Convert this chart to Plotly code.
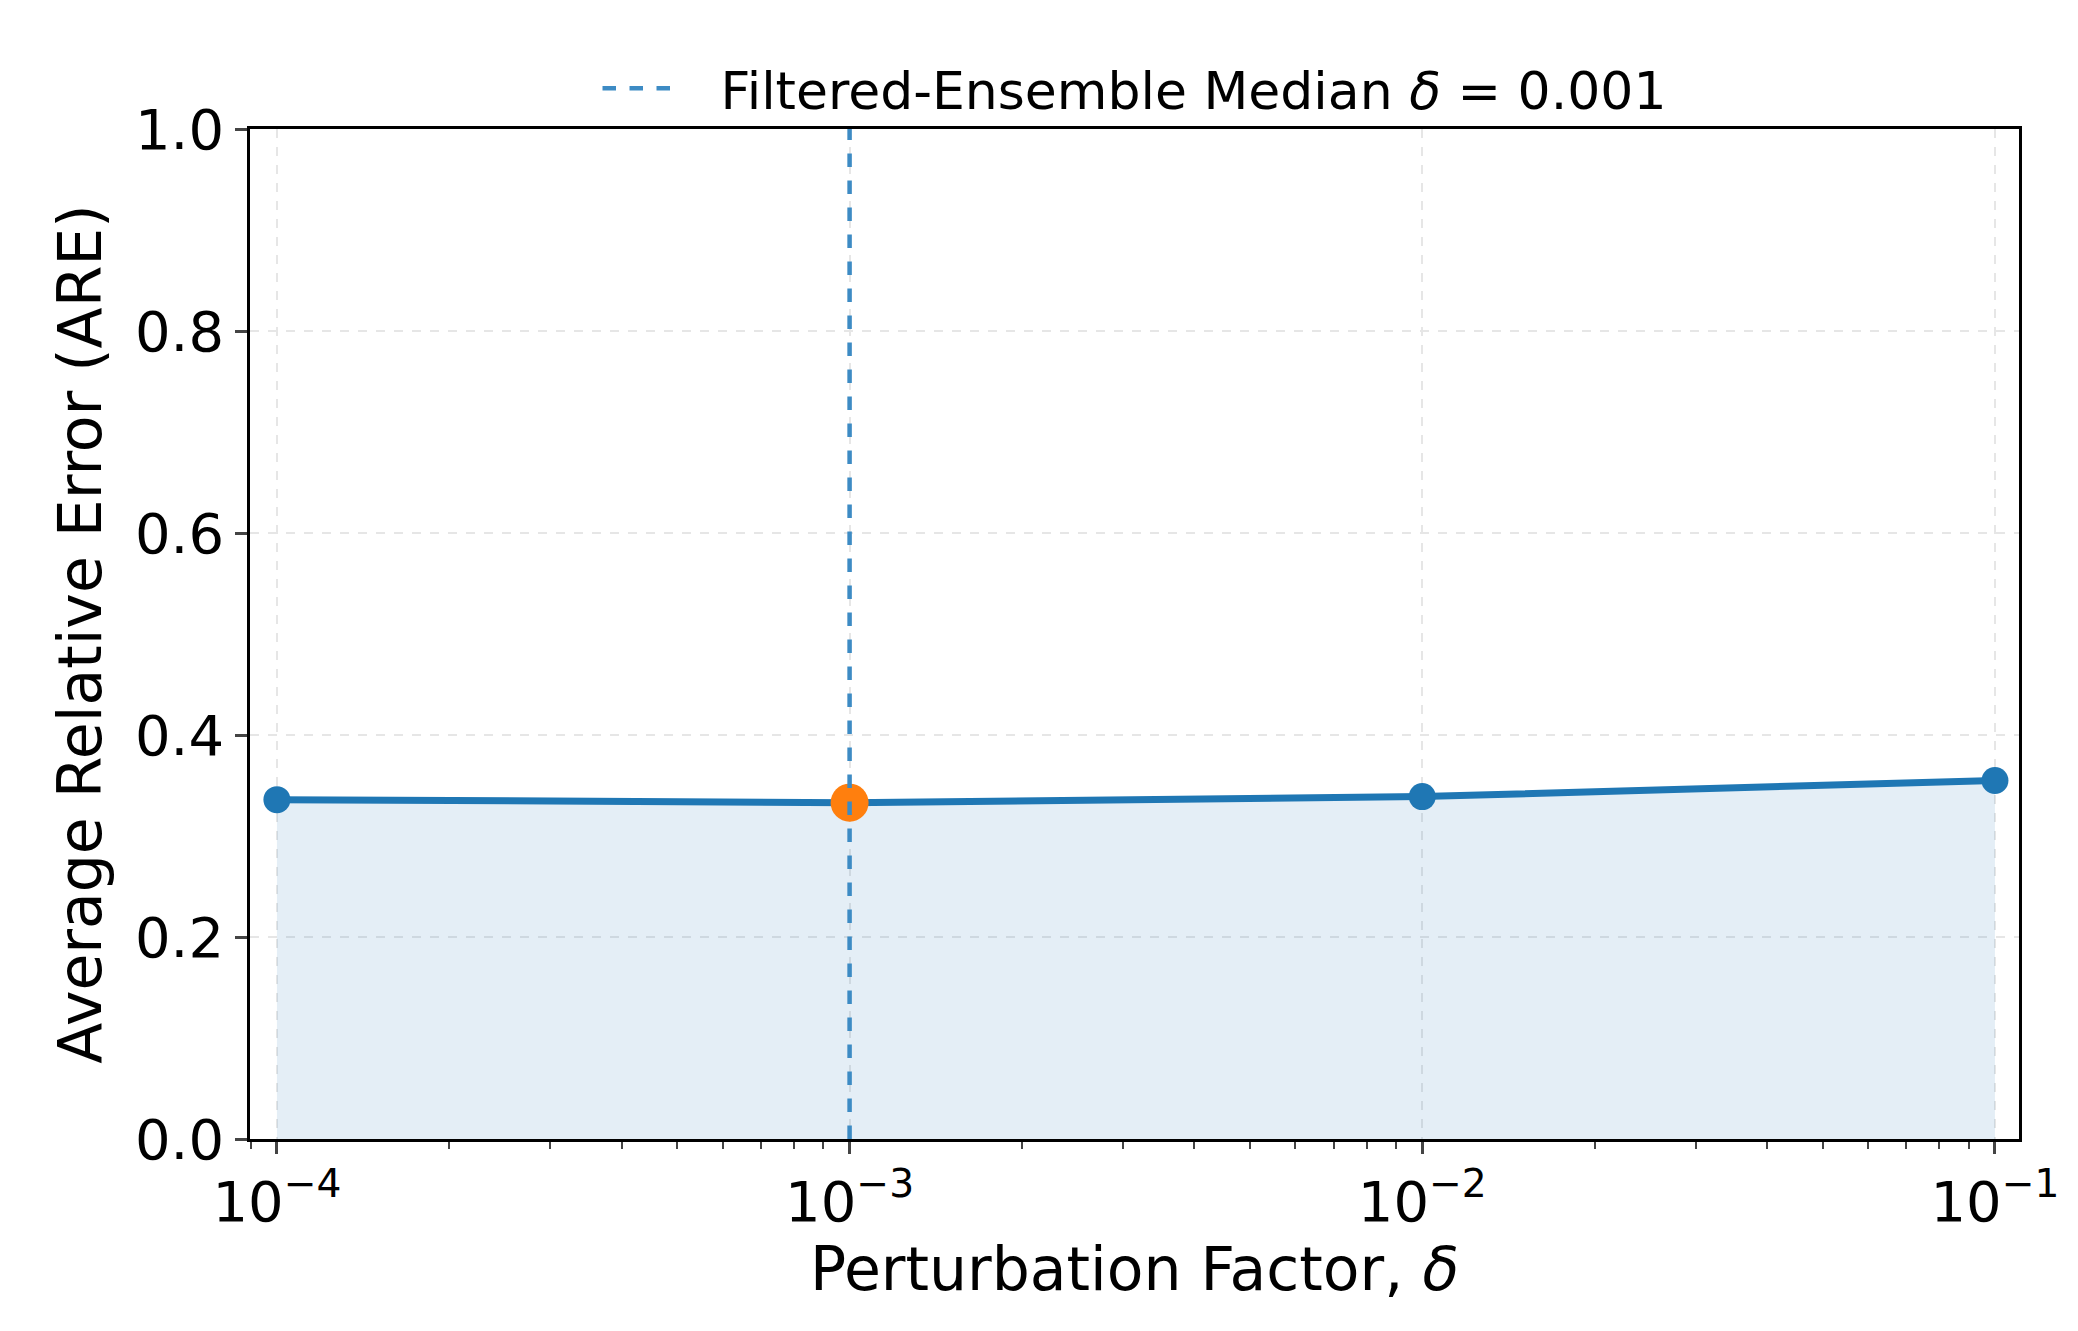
import plotly.graph_objects as go
import numpy as np

deltas = [1e-4, 1e-3, 1e-2, 1e-1]
are = [0.336, 0.333, 0.339, 0.355]
best_delta = 1e-3
best_are = 0.333
tick_vals = [1e-4, 1e-3, 1e-2, 1e-1]
tick_text = ["10<sup>−4</sup>", "10<sup>−3</sup>", "10<sup>−2</sup>", "10<sup>−1</sup>"]

F = "DejaVu Sans"
fig = go.Figure()
fig.add_trace(go.Scatter(x=deltas, y=are, mode="none", fill="tozeroy",
                         fillcolor="rgba(31,119,180,0.12)", showlegend=False, hoverinfo="skip"))
fig.add_trace(go.Scatter(x=deltas, y=are, mode="lines+markers",
                         line=dict(color="#1f77b4", width=7),
                         marker=dict(size=27, color="#1f77b4"), showlegend=False))
fig.add_trace(go.Scatter(x=[best_delta], y=[best_are], mode="markers",
                         marker=dict(size=38, color="#ff7f0e"), showlegend=False))
fig.add_trace(go.Scatter(x=[best_delta, best_delta], y=[0, 1], mode="lines",
                         line=dict(color="#3d8bc4", width=4.5, dash="dash"),
                         name="  Filtered-Ensemble Median <i>δ</i> = 0.001"))

minor = [m * 10**e for e in range(-5, 0) for m in range(2, 10)]
fig.update_layout(
    width=2078, height=1331, paper_bgcolor="white", plot_bgcolor="white",
    margin=dict(l=242, r=67, t=121, b=200),
    font=dict(family=F, size=58, color="black"),
    legend=dict(orientation="h", x=0.5, xanchor="center", y=1.0, yanchor="bottom",
                font=dict(size=52), bgcolor="rgba(0,0,0,0)", itemwidth=80),
    xaxis=dict(type="log", range=[np.log10(1e-4) - 0.047, np.log10(1e-1) + 0.042],
               tickvals=tick_vals, ticktext=tick_text, ticks="outside", ticklen=12, tickwidth=2.5,
               showgrid=True, gridcolor="#e6e6e6", griddash="dash", gridwidth=1.5,
               showline=True, linecolor="black", linewidth=2.5, mirror=True,
               minor=dict(tickvals=minor, ticks="outside", ticklen=7, tickwidth=1.5, showgrid=False),
               title=dict(text="Perturbation Factor, <i>δ</i>", font=dict(size=60), standoff=10),
               tickfont=dict(size=56)),
    yaxis=dict(range=[0, 1], tickvals=[0, 0.2, 0.4, 0.6, 0.8, 1.0], tickformat=".1f",
               ticks="outside", ticklen=12, tickwidth=2.5,
               showgrid=True, gridcolor="#e6e6e6", griddash="dash", gridwidth=1.5,
               showline=True, linecolor="black", linewidth=2.5, mirror=True, zeroline=False,
               title=dict(text="Average Relative Error (ARE)", font=dict(size=60), standoff=14),
               tickfont=dict(size=56)),
)
fig.write_html("out.html")
